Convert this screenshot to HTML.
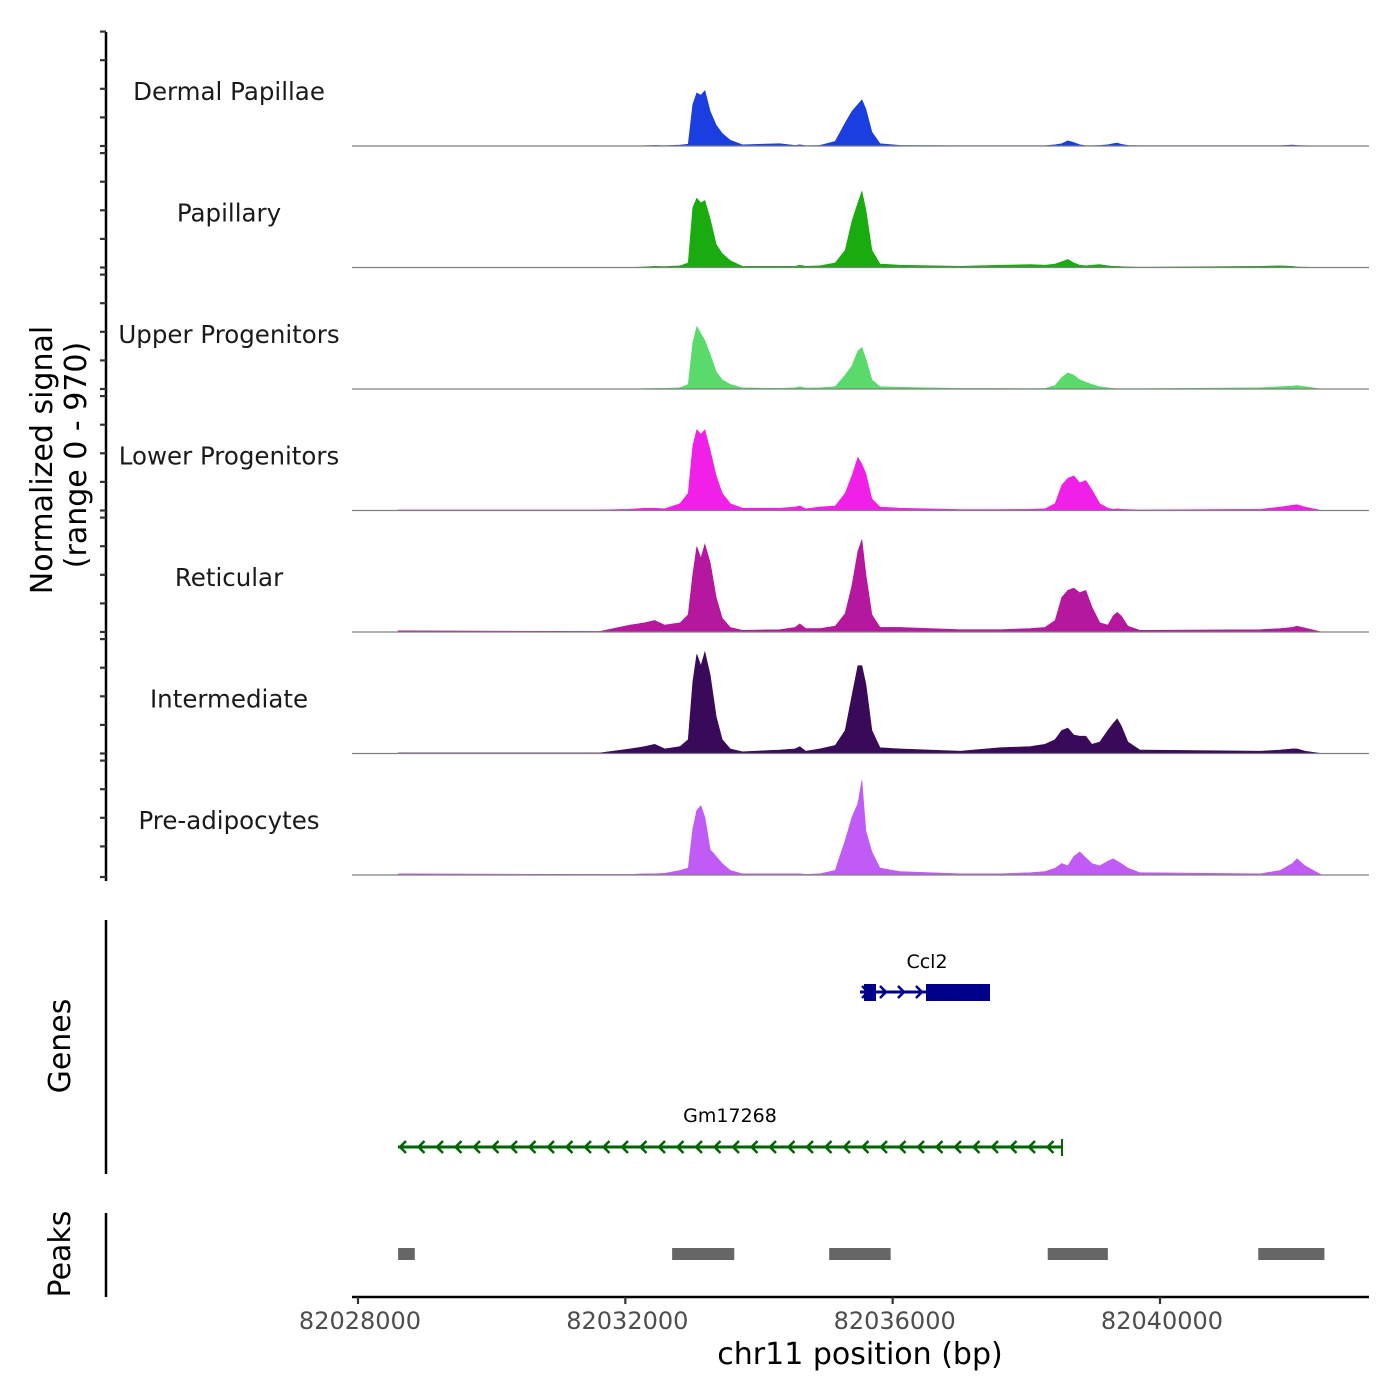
<!DOCTYPE html>
<html><head><meta charset="utf-8"><style>
html,body{margin:0;padding:0;background:#fff;}
svg{display:block;font-family:"DejaVu Sans","Liberation Sans",sans-serif;}
</style></head><body>
<svg id="chart" width="1400" height="1400" viewBox="0 0 1400 1400">
<g id="tracks"></g>
<g id="yaxis"></g>
<text transform="translate(52,460) rotate(-90)" text-anchor="middle" font-size="30" fill="#000">Normalized signal</text>
<text transform="translate(86,455) rotate(-90)" text-anchor="middle" font-size="30" fill="#000">(range 0 - 970)</text>
<g>
  <line x1="106" y1="920" x2="106" y2="1174" stroke="#000" stroke-width="2.5"/>
  <text transform="translate(70,1046) rotate(-90)" text-anchor="middle" font-size="30">Genes</text>
  <g id="genes"></g>
</g>
<g>
  <line x1="106" y1="1213" x2="106" y2="1297" stroke="#000" stroke-width="2.5"/>
  <text transform="translate(70,1254) rotate(-90)" text-anchor="middle" font-size="30">Peaks</text>
  <g id="peaks"></g>
</g>
<g id="xaxis">
  <line x1="352" y1="1297" x2="1369" y2="1297" stroke="#000" stroke-width="2.5"/>
</g>
<text x="860" y="1364" text-anchor="middle" font-size="30">chr11 position (bp)</text>
</svg>
<script>
const positions=[82028600,82031620,82032070,82032290,82032440,82032590,82032820,82032940,82033010,82033070,82033130,82033190,82033270,82033360,82033450,82033570,82033750,82034310,82034540,82034610,82034700,82034910,82035140,82035290,82035390,82035480,82035540,82035600,82035690,82035810,82036110,82037010,82037610,82038060,82038280,82038430,82038530,82038620,82038710,82038800,82038890,82038980,82039100,82039220,82039300,82039360,82039420,82039520,82039700,82041500,82041800,82041980,82042050,82042170,82042420];
const trackNames=["Dermal Papillae","Papillary","Upper Progenitors","Lower Progenitors","Reticular","Intermediate","Pre-adipocytes"];
const trackColors=["#1a3ee0","#1aab10","#5ada6a","#f020e8","#b5179e","#3a0a5a","#c05cf5"];
const dermalPapillae=[0,0,0,3,5,3,8,16,360,460,440,480,300,180,110,50,10,20,5,10,3,5,40,200,300,360,400,320,120,20,5,3,3,3,3,10,20,45,30,10,3,3,5,10,20,25,15,5,3,3,3,8,5,3,0];
const papillary=[0,0,0,5,10,8,15,40,520,600,560,580,420,200,120,60,10,10,10,20,10,15,40,150,400,560,660,500,150,30,20,10,20,25,20,30,50,70,40,20,15,20,25,15,10,10,8,5,3,10,15,10,5,3,0];
const upperProg=[0,0,0,3,5,5,10,40,400,540,480,420,300,150,80,40,10,5,10,20,8,10,20,120,200,330,360,260,80,20,15,5,5,3,5,30,100,140,120,80,60,40,20,10,5,3,3,3,3,10,20,25,30,20,0];
const lowerProg=[5,5,10,20,20,15,60,150,560,700,660,700,520,300,150,60,20,20,30,40,15,30,40,150,300,460,400,320,100,30,20,8,8,10,15,60,220,280,300,240,260,180,60,20,10,15,10,8,5,10,30,45,50,30,0];
const reticular=[10,5,60,80,100,60,80,150,500,740,640,760,600,300,120,40,15,20,40,70,30,30,50,160,400,700,800,500,150,40,40,20,20,30,40,100,300,360,380,340,360,220,80,60,140,170,140,50,15,20,30,40,50,35,0];
const intermediate=[5,5,40,60,80,40,60,120,620,860,760,880,680,320,120,40,15,30,40,60,20,40,70,200,500,760,760,600,200,50,40,20,50,60,80,120,200,220,160,150,150,80,100,200,260,300,240,100,30,20,30,40,40,20,0];
const preAdipo=[10,5,5,10,10,15,40,60,400,560,600,500,220,160,100,40,10,10,10,10,5,10,40,300,500,620,820,380,200,60,30,10,10,20,30,60,100,80,160,200,150,100,80,120,140,120,100,60,20,10,40,100,140,80,0];
const trackValues=[dermalPapillae,papillary,upperProg,lowerProg,reticular,intermediate,preAdipo];
const xTicks=[82028000,82032000,82036000,82040000];
const peakStarts=[82028600,82032700,82035050,82038320,82041470];
const peakEnds=[82028850,82033630,82035970,82039220,82042460];
const genes=["Ccl2","Gm17268"];

const NS="http://www.w3.org/2000/svg";
const X0=82028000,PX0=358,PXPB=802/12000;
const xs=v=>PX0+(v-X0)*PXPB;
const base0=146,trackH=121.5,vmax=970,plotH=112;
function mk(tag,attrs,parent){const e=document.createElementNS(NS,tag);for(const k in attrs)e.setAttribute(k,attrs[k]);parent.appendChild(e);return e;}
const tracks=document.getElementById('tracks'),yaxis=document.getElementById('yaxis');
mk('line',{x1:106,y1:32,x2:106,y2:881,stroke:'#000','stroke-width':2.5},yaxis);
trackValues.forEach((vals,i)=>{
  const b=base0+i*trackH;
  const ys=v=>b-v/vmax*plotH;
  const g=mk('g',{},tracks);
  
  
  let d='M'+xs(positions[0]).toFixed(1)+','+b;
  vals.forEach((v,j)=>{d+=' L'+xs(positions[j]).toFixed(1)+','+ys(v).toFixed(1);});
  d+=' L'+xs(positions[positions.length-1]).toFixed(1)+','+b+' Z';
  const p=mk('path',{d:d,fill:trackColors[i],stroke:trackColors[i],'stroke-width':0.6},g);
  
  
  const bl=mk('line',{x1:352,y1:b,x2:1369,y2:b,stroke:'#7f7f7f','stroke-width':1.2},g);
  
  
  const t=mk('text',{x:229,y:b-46,'text-anchor':'middle','font-size':24.5,fill:'#1a1a1a'},g);
  t.textContent=trackNames[i];
  
  
  for(let k=0;k<5;k++){
    const ty=b+(i===6&&k===0?2:0)-k*28.6;
    const tk=mk('line',{x1:100,y1:ty,x2:106,y2:ty,stroke:'#333','stroke-width':2.2},yaxis);
    
    
  }
});
const xa=document.getElementById('xaxis');
xTicks.forEach(v=>{
  const x=xs(v);
  const l=mk('line',{x1:x,y1:1297,x2:x,y2:1304,stroke:'#333','stroke-width':2.2},xa);
  
  
  const t=mk('text',{x:x+2,y:1329,'text-anchor':'middle','font-size':24,fill:'#4d4d4d'},xa);
  t.textContent=v;
  
  
});
const pk=document.getElementById('peaks');
peakStarts.forEach((s,i)=>{
  const r=mk('rect',{x:xs(s),y:1248,width:xs(peakEnds[i])-xs(s),height:12,fill:'#666'},pk);
  
  
});
const gg=document.getElementById('genes');
const c=mk('g',{},gg);


mk('line',{x1:860,y1:992,x2:990,y2:992,stroke:'#00008b','stroke-width':3},c);
mk('rect',{x:864,y:984,width:12,height:17,fill:'#00008b'},c);
mk('rect',{x:926,y:984,width:64,height:17,fill:'#00008b'},c);
[862,880,898,916].forEach(x=>mk('path',{d:`M${x},986 L${x+6},992 L${x},998`,stroke:'#00008b','stroke-width':2.5,fill:'none'},c));
const ct=mk('text',{x:927,y:968,'text-anchor':'middle','font-size':19},c);ct.textContent=genes[0];
const gm=mk('g',{},gg);


mk('line',{x1:398,y1:1147,x2:1062,y2:1147,stroke:'#006400','stroke-width':3},gm);
mk('line',{x1:1062,y1:1139,x2:1062,y2:1156,stroke:'#006400','stroke-width':2},gm);
for(let x=400;x<1060;x+=18.5)mk('path',{d:`M${x+6},1141 L${x},1147 L${x+6},1153`,stroke:'#006400','stroke-width':2.5,fill:'none'},gm);
const gt=mk('text',{x:730,y:1122,'text-anchor':'middle','font-size':19},gm);gt.textContent=genes[1];
</script>
</body></html>
